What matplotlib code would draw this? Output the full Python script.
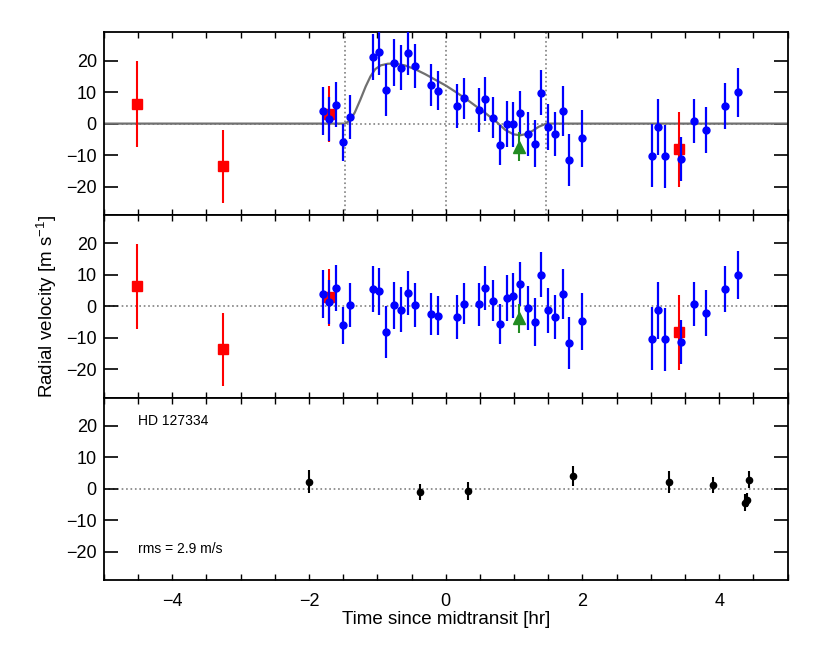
import numpy as np
import matplotlib
matplotlib.use('Agg')
import matplotlib.pyplot as plt
from matplotlib.ticker import MultipleLocator

plt.rcParams['font.family'] = ['Liberation Sans', 'DejaVu Sans']
plt.rcParams['mathtext.default'] = 'regular'

# blue points: time [hr], RV [m/s], residual [m/s], error [m/s]
t_blue = [-1.80, -1.71, -1.60, -1.50, -1.40, -1.07, -0.97, -0.87, -0.76, -0.66,
          -0.55, -0.45, -0.21, -0.11, 0.17, 0.27, 0.48, 0.58, 0.69, 0.79,
          0.89, 0.99, 1.09, 1.20, 1.30, 1.40, 1.50, 1.60, 1.71, 1.81,
          2.00, 3.01, 3.11, 3.21, 3.44, 3.63, 3.81, 4.09, 4.27]
rv_blue = [4.0, 1.4, 6.0, -5.9, 2.0, 21.1, 22.8, 10.7, 19.4, 17.8,
           22.4, 18.2, 12.2, 10.4, 5.7, 8.0, 4.3, 7.8, 1.9, -6.9,
           -0.1, -0.2, 3.5, -3.4, -6.4, 9.8, -1.1, -3.2, 4.0, -11.5,
           -4.7, -10.2, -1.1, -10.3, -11.1, 0.9, -2.1, 5.7, 9.9]
res_blue = [3.9, 1.3, 5.8, -6.1, 0.5, 5.5, 4.7, -8.2, 0.3, -1.1,
            4.1, 0.4, -2.5, -3.0, -3.3, 0.8, 0.6, 5.8, 1.8, -5.6,
            2.5, 3.3, 7.1, -0.5, -5.0, 10.0, -1.3, -3.3, 3.9, -11.6,
            -4.8, -10.4, -1.3, -10.5, -11.3, 0.8, -2.3, 5.6, 9.9]
err_blue = [7.7, 6.9, 7.2, 5.9, 7.0, 7.3, 7.5, 8.2, 7.5, 7.2,
            7.0, 7.0, 6.6, 6.2, 7.0, 6.6, 6.9, 6.9, 6.6, 6.4,
            7.3, 7.2, 6.9, 7.0, 7.5, 7.2, 7.2, 7.0, 8.0, 8.3,
            9.0, 10.0, 9.0, 10.0, 7.0, 7.0, 7.3, 7.3, 7.7]

# red squares
t_red = [-4.51, -3.25, -1.71, 3.41]
rv_red = [6.3, -13.6, 3.0, -8.2]
res_red = [6.3, -13.6, 2.8, -8.3]
err_red = [13.6, 11.6, 9.0, 12.0]

# green triangle
t_green = [1.07]
rv_green = [-7.3]
res_green = [-3.8]
err_green = [4.6]

# model curve
t_model = [-5.0, -1.47, -1.40, -1.33, -1.25, -1.17, -1.10, -1.03, -0.95, -0.85,
           -0.75, -0.60, -0.45, -0.30, -0.15, 0.0, 0.15, 0.30, 0.45, 0.60,
           0.75, 0.87, 0.99, 1.09, 1.18, 1.27, 1.36, 1.47, 5.0]
rv_model = [0.0, 0.0, 1.0, 3.5, 7.5, 11.8, 15.0, 17.3, 18.5, 19.0,
            19.1, 18.5, 17.3, 15.7, 13.9, 12.1, 10.0, 7.8, 5.4, 3.0,
            0.4, -2.0, -3.4, -3.7, -3.3, -2.3, -1.0, 0.0, 0.0]

# bottom panel (HD 127334)
t_hd = [-2.00, -0.38, 0.33, 1.86, 3.27, 3.91, 4.37, 4.40, 4.44]
rv_hd = [2.3, -0.9, -0.7, 4.1, 2.1, 1.1, -4.4, -3.5, 2.9]
err_hd = [3.7, 2.5, 2.8, 3.2, 3.5, 2.5, 2.7, 2.2, 2.6]

t_contacts = [-1.47, 0.0, 1.47]

fig, axes = plt.subplots(3, 1, sharex=True, figsize=(8.3, 6.46), dpi=100)
fig.subplots_adjust(left=0.125, right=0.949, bottom=0.102, top=0.950, hspace=0)

dot = dict(color='gray', linestyle=':', linewidth=1.2)

# top panel
ax = axes[0]
ax.axhline(0, **dot, zorder=1)
for tc in t_contacts:
    ax.axvline(tc, **dot, zorder=1)
ax.plot(t_model, rv_model, color='#707070', linewidth=1.6, zorder=2)
ax.errorbar(t_red, rv_red, yerr=err_red, fmt='s', ms=7, color='red', ecolor='red',
            elinewidth=1.5, capsize=0, zorder=3)
ax.errorbar(t_blue, rv_blue, yerr=err_blue, fmt='o', ms=5, color='blue', ecolor='blue',
            elinewidth=1.6, capsize=0, zorder=4)
ax.errorbar(t_green, rv_green, yerr=err_green, fmt='^', ms=8, color='forestgreen',
            ecolor='forestgreen', elinewidth=1.5, capsize=0, zorder=5)

# middle panel
ax = axes[1]
ax.axhline(0, **dot, zorder=1)
ax.errorbar(t_red, res_red, yerr=err_red, fmt='s', ms=7, color='red', ecolor='red',
            elinewidth=1.5, capsize=0, zorder=3)
ax.errorbar(t_blue, res_blue, yerr=err_blue, fmt='o', ms=5, color='blue', ecolor='blue',
            elinewidth=1.6, capsize=0, zorder=4)
ax.errorbar(t_green, res_green, yerr=err_green, fmt='^', ms=8, color='forestgreen',
            ecolor='forestgreen', elinewidth=1.5, capsize=0, zorder=5)
ax.set_ylabel('Radial velocity [m s$^{-1}$]', fontsize=13.5, labelpad=5)

# bottom panel
ax = axes[2]
ax.axhline(0, **dot, zorder=1)
ax.errorbar(t_hd, rv_hd, yerr=err_hd, fmt='o', ms=4.5, color='black', ecolor='black',
            elinewidth=1.5, capsize=0, zorder=3)
ax.text(-4.5, 21.5, 'HD 127334', fontsize=10, ha='left', va='center')
ax.text(-4.5, -19, 'rms = 2.9 m/s', fontsize=10, ha='left', va='center')
ax.set_xlabel('Time since midtransit [hr]', fontsize=13.5, labelpad=1)

for ax in axes:
    ax.set_xlim(-5, 5)
    ax.set_ylim(-29, 29)
    ax.set_yticks([-20, -10, 0, 10, 20])
    ax.set_xticks([-4, -2, 0, 2, 4])
    ax.xaxis.set_minor_locator(MultipleLocator(0.5))
    ax.tick_params(axis='both', which='both', direction='in', top=True, right=True,
                   labelsize=13)
    ax.tick_params(axis='y', which='major', length=10, width=1.2, pad=5)
    ax.tick_params(axis='x', which='major', length=4, width=1.0, pad=9)
    ax.tick_params(axis='x', which='minor', length=4, width=1.0)
    for s in ax.spines.values():
        s.set_linewidth(1.3)

plt.savefig('out.png', dpi=100)
